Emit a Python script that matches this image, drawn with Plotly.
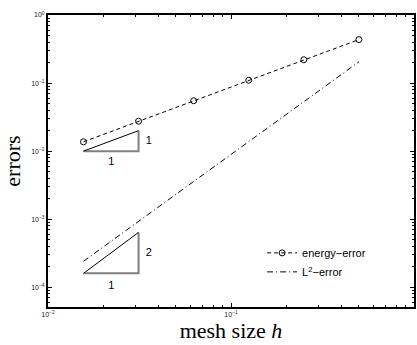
import plotly.graph_objects as go

h = [1/64, 1/32, 1/16, 1/8, 1/4, 1/2]
energy_error = [0.0137, 0.0275, 0.055, 0.11, 0.22, 0.435]
l2_error = [2.41e-4, 9.3e-4, 3.58e-3, 1.38e-2, 5.3e-2, 0.205]

tri1_x = [1/64, 1/32, 1/32]
tri1_y = [0.01, 0.01, 0.02]
tri2_x = [1/64, 1/32, 1/32]
tri2_y = [1.6e-4, 1.6e-4, 6.4e-4]

lab_x = [0.0222, 0.0356, 0.0356]
lab_y = [0.0068, 0.0142, 3.2e-4]
lab_t = ["1", "1", "2"]
lab2_x = [0.0222]
lab2_y = [1.05e-4]
lab2_t = ["1"]

x_tickvals = [0.01, 0.1, 1]
x_ticktext = ["10<sup>\u22122</sup>", "10<sup>\u22121</sup>", "10<sup>0</sup>"]
y_tickvals = [1e-4, 1e-3, 1e-2, 1e-1, 1]
y_ticktext = ["10<sup>\u22124</sup>", "10<sup>\u22123</sup>", "10<sup>\u22122</sup>", "10<sup>\u22121</sup>", "10<sup>0</sup>"]

fig = go.Figure()

# triangles: grey legs, black hypotenuse
for tx, ty in [(tri1_x, tri1_y), (tri2_x, tri2_y)]:
    fig.add_trace(go.Scatter(x=tx, y=ty, mode="lines", line=dict(color="#808080", width=2),
                             showlegend=False, hoverinfo="skip"))
    fig.add_trace(go.Scatter(x=[tx[0], tx[2]], y=[ty[0], ty[2]], mode="lines",
                             line=dict(color="black", width=1), showlegend=False, hoverinfo="skip"))

fig.add_trace(go.Scatter(x=lab_x + lab2_x, y=lab_y + lab2_y, mode="text", text=lab_t + lab2_t,
                         textfont=dict(family="Liberation Sans, Arial", size=11, color="black"),
                         showlegend=False, hoverinfo="skip"))

fig.add_trace(go.Scatter(x=h, y=energy_error, mode="lines+markers", name="energy\u2212error",
                         line=dict(color="black", width=1, dash="4px,3px"),
                         marker=dict(symbol="circle-open", size=6, color="black", line=dict(width=1))))
fig.add_trace(go.Scatter(x=h, y=l2_error, mode="lines", name="L<sup>2</sup>\u2212error",
                         line=dict(color="black", width=1, dash="6px,3px,1px,3px")))

axis_common = dict(type="log", showgrid=False, zeroline=False,
                   ticks="inside", ticklen=4, tickwidth=1, tickcolor="black",
                   showline=True, linecolor="black", linewidth=2, mirror="allticks",
                   tickfont=dict(family="Liberation Sans, Arial", size=7, color="#222"),
                   minor=dict(ticks="inside", ticklen=2, tickcolor="black", dtick="D1", showgrid=False))

fig.update_xaxes(**axis_common, range=[-2, 0], tickmode="array", tickvals=x_tickvals, ticktext=x_ticktext,
                 title=dict(text="mesh size <i>h</i>", font=dict(family="Liberation Serif, Times New Roman", size=22, color="black"), standoff=3))
fig.update_yaxes(**axis_common, range=[-4.29, 0], tickmode="array", tickvals=y_tickvals, ticktext=y_ticktext,
                 title=dict(text="errors", font=dict(family="Liberation Serif, Times New Roman", size=22, color="black"), standoff=8))

fig.update_layout(
    width=417, height=345,
    margin=dict(l=48, r=1, t=15, b=38),
    paper_bgcolor="white", plot_bgcolor="white",
    legend=dict(x=0.585, y=0.235, xanchor="left", yanchor="top", bgcolor="rgba(0,0,0,0)",
                font=dict(family="Liberation Sans, Arial", size=11, color="black"),
                itemwidth=30, tracegroupgap=0),
)

fig.write_html("out.html")
